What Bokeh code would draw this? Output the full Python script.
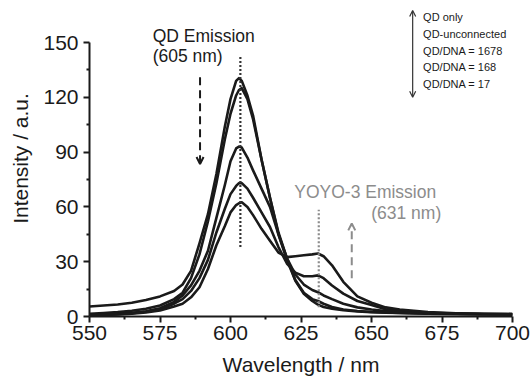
from bokeh.plotting import figure
from bokeh.models import Range1d, FixedTicker, Label, Arrow, OpenHead
from bokeh.embed import file_html
from bokeh.resources import INLINE

# ---- data ----
wavelength = [550, 555, 560, 565, 570, 575, 580, 583, 586, 589, 592, 595, 598, 600, 602, 603,
              604, 606, 608, 611, 614, 617, 620, 623, 626, 629, 631, 633, 636, 640, 645, 650,
              655, 660, 670, 680, 690, 700]

qd_only = [5.5, 6.0, 6.6, 7.5, 9.0, 11.0, 14.0, 17.5, 25, 40, 56, 78, 104, 119, 129, 130.5,
           129, 121, 110, 86, 65, 45, 31, 19.5, 12.5, 8.5, 6.5, 5.2, 4.2, 3.4, 2.8, 2.4,
           2.1, 1.9, 1.6, 1.4, 1.2, 1.1]

qd_unconnected = [1.5, 1.9, 2.4, 3.1, 4.2, 6.0, 9.5, 13, 21, 34, 52, 73, 97, 111, 121, 124,
                  125, 119, 108, 86, 65, 46, 32, 20, 13, 9.5, 8.5, 7, 5.2, 3.8, 3.0, 2.5,
                  2.2, 1.9, 1.6, 1.4, 1.2, 1.1]

qd_dna_1678 = [1.0, 1.2, 1.5, 2.0, 2.8, 4.5, 8, 11.5, 17, 25, 36, 54, 72, 85, 92, 93,
               92.5, 87, 80, 70, 60, 45, 32, 23, 17.5, 14.5, 13.3, 11.5, 9.5, 7, 5, 3.8,
               3.0, 2.5, 1.9, 1.5, 1.3, 1.2]

qd_dna_168 = [0.8, 1.0, 1.3, 1.8, 2.6, 4, 7, 9.5, 14, 21, 31, 46, 59, 67, 71.5, 73,
              73, 70, 65, 57, 49, 38, 29, 24, 22, 22, 22.5, 21, 17, 12.5, 8.5, 6.3,
              4.0, 3.0, 2.0, 1.6, 1.4, 1.3]

qd_dna_17 = [0.7, 0.9, 1.1, 1.5, 2.2, 3.3, 5.5, 7, 10.5, 16, 26, 39, 49.5, 57, 61, 62,
             62.5, 60, 55.5, 48, 41.5, 35, 32.5, 33, 33.5, 34, 34.5, 33, 28, 19, 11, 7.5,
             5, 3.8, 2.4, 1.8, 1.5, 1.4]

series = [qd_only, qd_unconnected, qd_dna_1678, qd_dna_168, qd_dna_17]
legend_labels = ["QD only", "QD-unconnected", "QD/DNA = 1678", "QD/DNA = 168", "QD/DNA = 17"]

x_ticks = [550, 575, 600, 625, 650, 675, 700]
x_minor = [562.5, 587.5, 612.5, 637.5, 662.5, 687.5]
y_ticks = [0, 30, 60, 90, 120, 150]
y_minor = [15, 45, 75, 105, 135]

FONT = "Liberation Sans"
INK = "#1a1a1a"
GREY = "#8c8c8c"

p = figure(width=531, height=378, output_backend="svg", toolbar_location=None,
           x_range=Range1d(550, 700), y_range=Range1d(0, 173),
           min_border_left=89, min_border_right=19, min_border_top=0, min_border_bottom=62)
p.outline_line_color = None
p.xgrid.visible = False
p.ygrid.visible = False
p.background_fill_color = "white"
p.border_fill_color = "white"

for ys in series:
    p.line(wavelength, ys, line_color=INK, line_width=2.6, line_join="round")

for ax, ticks, minor, label in ((p.xaxis[0], x_ticks, x_minor, "Wavelength / nm"),
                                (p.yaxis[0], y_ticks, y_minor, "Intensity / a.u.")):
    ax.ticker = FixedTicker(ticks=ticks, minor_ticks=minor)
    ax.axis_label = label
    ax.axis_label_text_font = FONT
    ax.axis_label_text_font_size = "21px"
    ax.axis_label_text_font_style = "normal"
    ax.axis_label_text_color = INK
    ax.major_label_text_font = FONT
    ax.major_label_text_font_size = "21px"
    ax.major_label_text_color = INK
    ax.axis_line_color = INK
    ax.axis_line_width = 2
    ax.major_tick_line_color = INK
    ax.major_tick_line_width = 2
    ax.minor_tick_line_color = INK
    ax.minor_tick_line_width = 2
    ax.major_tick_in = 0
    ax.major_tick_out = 6
    ax.minor_tick_in = 0
    ax.minor_tick_out = 3

p.yaxis.bounds = (0, 150)
p.xaxis.major_label_standoff = 3
p.xaxis.axis_label_standoff = 10
p.yaxis.major_label_standoff = 5
p.yaxis.axis_label_standoff = 8

# dotted markers of the emission maxima
p.segment(x0=[603.5], y0=[38], x1=[603.5], y1=[142], line_color="#333333",
          line_width=2.2, line_dash="2 2")
p.segment(x0=[631.3], y0=[5], x1=[631.3], y1=[58.5], line_color=GREY,
          line_width=2.2, line_dash="2 2")

# dashed arrows
p.add_layout(Arrow(x_start=589.2, y_start=131, x_end=589.2, y_end=83.5,
                   line_color=INK, line_width=2, line_dash="8 5",
                   end=OpenHead(size=7, line_color=INK, line_width=2)))
p.add_layout(Arrow(x_start=643, y_start=21, x_end=643, y_end=51,
                   line_color=GREY, line_width=2, line_dash="8 5",
                   end=OpenHead(size=7, line_color=GREY, line_width=2)))

# texts
def add_text(x, y, text, color=INK, size="17.5px"):
    p.add_layout(Label(x=x, y=y, text=text, text_font=FONT, text_font_size=size,
                       text_color=color, text_baseline="middle", text_align="left"))

add_text(572.4, 153.3, "QD Emission")
add_text(572.4, 142.8, "(605 nm)")
add_text(622.6, 68.0, "YOYO-3 Emission", color=GREY)
add_text(649.9, 56.5, "(631 nm)", color=GREY)

legend_y = [163.7, 154.6, 145.5, 136.4, 127.3]
for yy, txt in zip(legend_y, legend_labels):
    add_text(668.3, yy, txt, size="11px")

p.add_layout(Arrow(x_start=664.6, y_start=142, x_end=664.6, y_end=167.5,
                   line_color="#333333", line_width=1.2,
                   end=OpenHead(size=6, line_color="#333333", line_width=1.2)))
p.add_layout(Arrow(x_start=664.6, y_start=142, x_end=664.6, y_end=120,
                   line_color="#333333", line_width=1.2,
                   end=OpenHead(size=6, line_color="#333333", line_width=1.2)))

open("out.html", "w").write(file_html(p, INLINE))
